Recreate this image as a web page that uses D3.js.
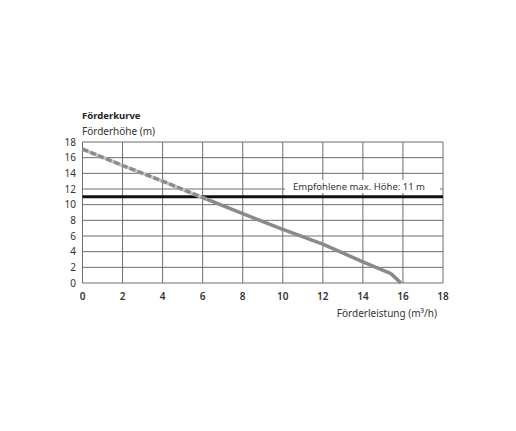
<!DOCTYPE html>
<html>
<head>
<meta charset="utf-8">
<script src="https://cdn.jsdelivr.net/npm/d3@7"></script>
<style>
  body { margin: 0; background: #fff; }
  text { font-family: "Noto Sans", sans-serif; fill: #333; }
</style>
</head>
<body>
<div id="chart"></div>
<script>
// pump curve
const flow = [0, 2, 4, 6, 8, 10, 12, 14, 15.4, 15.9];
const head = [17.1, 15.0, 13.0, 10.9, 8.85, 6.85, 4.95, 2.7, 1.2, 0];
const maxHead = 11;
const xTicks = [0, 2, 4, 6, 8, 10, 12, 14, 16, 18];
const yTicks = [0, 2, 4, 6, 8, 10, 12, 14, 16, 18];
const dashedUntil = 6.2;

const W = 516, H = 431;
const svg = d3.select("#chart").append("svg")
  .attr("width", W).attr("height", H);

const x = d3.scaleLinear().domain([0, 18]).range([82.5, 443]);
const y = d3.scaleLinear().domain([0, 18]).range([283, 142]);

// grid
svg.append("g").selectAll("line.v")
  .data(xTicks).enter().append("line")
  .attr("x1", d => x(d)).attr("x2", d => x(d))
  .attr("y1", y(0)).attr("y2", y(18))
  .attr("stroke", "#6e6e6e").attr("stroke-width", 1);

svg.append("g").selectAll("line.h")
  .data(yTicks).enter().append("line")
  .attr("x1", x(0)).attr("x2", x(18))
  .attr("y1", d => y(d)).attr("y2", d => y(d))
  .attr("stroke", "#6e6e6e").attr("stroke-width", 1);

// tick labels
svg.append("g").selectAll("text")
  .data(yTicks).enter().append("text")
  .attr("x", 76).attr("y", d => y(d) + 3.5)
  .attr("text-anchor", "end")
  .style("font-size", "10px")
  .text(d => d);

svg.append("g").selectAll("text")
  .data(xTicks).enter().append("text")
  .attr("x", d => x(d)).attr("y", 300)
  .attr("text-anchor", "middle")
  .style("font-size", "10px").style("font-weight", "600")
  .text(d => d);

// titles
svg.append("text").attr("x", 82).attr("y", 119)
  .style("font-size", "9.5px").style("font-weight", "bold").style("fill", "#222")
  .text("Förderkurve");
svg.append("text").attr("x", 82).attr("y", 135)
  .style("font-size", "10px")
  .text("Förderhöhe (m)");
svg.append("text").attr("x", 437).attr("y", 317)
  .attr("text-anchor", "end")
  .style("font-size", "10px")
  .text("Förderleistung (m³/h)");

// label box for recommended height
const lab = svg.append("g");
lab.append("rect")
  .attr("x", 285).attr("y", 180).attr("width", 155).attr("height", 13)
  .attr("fill", "#fff");
lab.append("text")
  .attr("x", 425).attr("y", 190)
  .attr("text-anchor", "end")
  .style("font-size", "9.5px")
  .text("Empfohlene max. Höhe: " + maxHead + " m");

// recommended max line
svg.append("line")
  .attr("x1", x(0)).attr("x2", x(18))
  .attr("y1", y(maxHead)).attr("y2", y(maxHead))
  .attr("stroke", "#111").attr("stroke-width", 3);

// curve
const pts = flow.map((f, i) => [f, head[i]]);
const line = d3.line().x(d => x(d[0])).y(d => y(d[1]));

// split at dashedUntil
const split = (() => {
  for (let i = 1; i < pts.length; i++) {
    if (pts[i][0] >= dashedUntil) {
      const [x0, y0] = pts[i - 1], [x1, y1] = pts[i];
      const t = (dashedUntil - x0) / (x1 - x0);
      return [dashedUntil, y0 + t * (y1 - y0), i];
    }
  }
})();
const dashedPts = pts.slice(0, split[2]).concat([[split[0], split[1]]]);
const solidPts = [[split[0], split[1]]].concat(pts.slice(split[2]));

svg.append("path").attr("d", line(dashedPts))
  .attr("fill", "none").attr("stroke", "#c4c4c4").attr("stroke-width", 3.5);
svg.append("path").attr("d", line(dashedPts))
  .attr("fill", "none").attr("stroke", "#8c8c8c").attr("stroke-width", 3.5)
  .attr("stroke-dasharray", "6,2.5");
svg.append("path").attr("d", line(solidPts))
  .attr("fill", "none").attr("stroke", "#8a8a8a").attr("stroke-width", 3.5)
  .attr("stroke-linejoin", "round");
</script>
</body>
</html>
